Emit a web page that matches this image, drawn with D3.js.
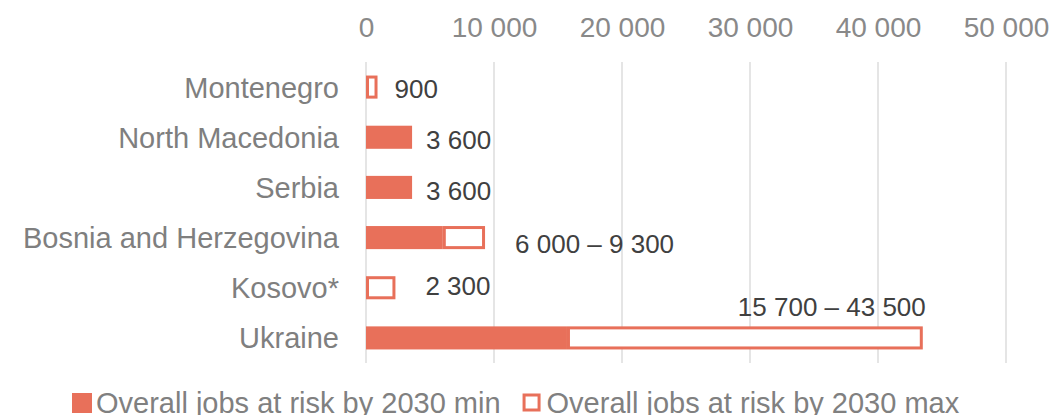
<!DOCTYPE html>
<html>
<head>
<meta charset="utf-8">
<script src="https://cdn.jsdelivr.net/npm/d3@7"></script>
<style>
  html, body { margin: 0; padding: 0; background: #fff; }
  svg { display: block; font-family: "Liberation Sans", Arial, sans-serif; }
</style>
</head>
<body>
<svg id="chart" width="1054" height="415"></svg>
<script>
// Jobs at risk by 2030, per country: lower and upper estimates
const countries = ["Montenegro", "North Macedonia", "Serbia", "Bosnia and Herzegovina", "Kosovo*", "Ukraine"];
const jobsMin = [0, 3600, 3600, 6000, 0, 15700];
const jobsMax = [900, 3600, 3600, 9300, 2300, 43500];
const tickValues = [0, 10000, 20000, 30000, 40000, 50000];
const seriesNames = ["Overall jobs at risk by 2030 min", "Overall jobs at risk by 2030 max"];

// Label nudges (pixels) relative to the end of each bar
const labelNudge = {
  "Montenegro": { dx: 17, dy: 2 },
  "North Macedonia": { dx: 14, dy: 2 },
  "Serbia": { dx: 14, dy: 3 },
  "Bosnia and Herzegovina": { dx: 30, dy: 6 },
  "Kosovo*": { dx: 30, dy: -2 },
  "Ukraine": { dx: 3, dy: -31, anchor: "end" }
};

const ORANGE = "#E8705A";
const svg = d3.select("#chart");

const x = d3.scaleLinear().domain([0, 50000]).range([366, 1006]);
const y = d3.scaleBand().domain(countries).range([62, 363]).paddingInner(0.54).paddingOuter(0.27);

const fmt = v => d3.format(",")(v).replace(/,/g, " ");

// Vertical gridlines
svg.append("g")
  .selectAll("line")
  .data(tickValues)
  .join("line")
  .attr("x1", d => x(d)).attr("x2", d => x(d))
  .attr("y1", 62).attr("y2", 363)
  .attr("stroke", "#dcdcdc")
  .attr("stroke-width", 1.5);

// Top axis labels
const xAxis = d3.axisTop(x).tickValues(tickValues).tickFormat(fmt).tickSize(0).tickPadding(0);
const gx = svg.append("g").attr("transform", "translate(0,37)").call(xAxis);
gx.select(".domain").remove();
gx.selectAll("text")
  .attr("font-size", 28)
  .attr("fill", "#898989")
  .attr("font-family", "'Liberation Sans', Arial, sans-serif")
  .attr("dy", 0);

// Category labels
const yAxis = d3.axisLeft(y).tickSize(0).tickPadding(0);
const gy = svg.append("g").attr("transform", "translate(339,0)").call(yAxis);
gy.select(".domain").remove();
gy.selectAll("text")
  .attr("font-size", 29)
  .attr("fill", "#7f7f7f")
  .attr("font-family", "'Liberation Sans', Arial, sans-serif")
  .attr("dy", "0.36em");

const rows = countries.map((c, i) => ({ c, min: jobsMin[i], max: jobsMax[i] }));
const bw = y.bandwidth();

// Min series: filled bars
svg.append("g")
  .selectAll("rect")
  .data(rows.filter(d => d.min > 0))
  .join("rect")
  .attr("x", x(0))
  .attr("y", d => y(d.c))
  .attr("width", d => x(d.min) - x(0))
  .attr("height", bw)
  .attr("fill", ORANGE);

// Max series: outlined segment stacked from min to max
svg.append("g")
  .selectAll("rect")
  .data(rows.filter(d => d.max > d.min))
  .join("rect")
  .attr("x", d => x(d.min) + 1.5)
  .attr("y", d => y(d.c) + 1.5)
  .attr("width", d => x(d.max) - x(d.min) - 3)
  .attr("height", bw - 3)
  .attr("fill", "#fff")
  .attr("stroke", ORANGE)
  .attr("stroke-width", 3);

// Value labels
svg.append("g")
  .selectAll("text")
  .data(rows)
  .join("text")
  .attr("x", d => x(d.max) + labelNudge[d.c].dx)
  .attr("y", d => y(d.c) + bw / 2 + labelNudge[d.c].dy)
  .attr("dy", "0.36em")
  .attr("text-anchor", d => labelNudge[d.c].anchor || "start")
  .attr("font-size", 26)
  .attr("fill", "#404040")
  .text(d => (d.min > 0 && d.min !== d.max) ? fmt(d.min) + " \u2013 " + fmt(d.max) : fmt(d.max));

// Legend
const legend = svg.append("g").attr("font-size", 29).attr("fill", "#808080");
let lx = 72;
seriesNames.forEach((name, i) => {
  if (i === 0) {
    legend.append("rect").attr("x", lx).attr("y", 393).attr("width", 20).attr("height", 20).attr("fill", ORANGE);
  } else {
    legend.append("rect").attr("x", lx + 1.5).attr("y", 395).attr("width", 15).attr("height", 15)
      .attr("fill", "#fff").attr("stroke", ORANGE).attr("stroke-width", 3);
  }
  const t = legend.append("text").attr("x", lx + 24).attr("y", 412.5).text(name);
  lx = lx + 24 + t.node().getComputedTextLength() + 22;
});
</script>
</body>
</html>
